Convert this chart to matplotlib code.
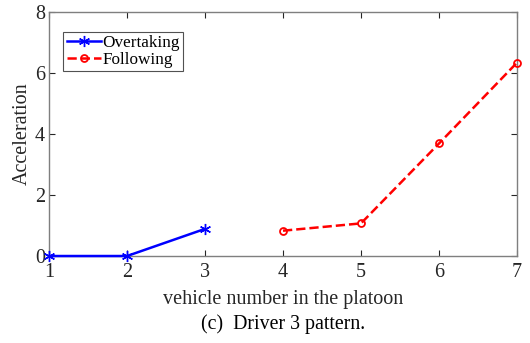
import matplotlib.pyplot as plt

plt.rcParams['font.family'] = ['Liberation Serif', 'DejaVu Serif']

# vehicle positions and accelerations
overtake_x = [1, 2, 3]
overtake_y = [0, 0, 0.89]
follow_x = [4, 5, 6, 7]
follow_y = [0.83, 1.07, 3.69, 6.34]

fig = plt.figure(figsize=(5.3, 3.43), dpi=100)
ax = fig.add_axes([0.0925, 0.2536, 0.883, 0.7114])

ax.plot(overtake_x, overtake_y, '-', color='blue', marker=(6, 2, 0), markersize=8,
        linewidth=1.8, label='Overtaking', clip_on=False, zorder=3)
ax.plot(follow_x, follow_y, '--', color='red', marker='o', markersize=5,
        markerfacecolor='none', markeredgewidth=1.3, linewidth=1.8,
        label='Following', clip_on=False, zorder=3)

ax.set_xlim(1, 7)
ax.set_ylim(0, 8)
ax.set_xticks(range(1, 8))
ax.set_yticks([0, 2, 4, 6, 8])
ax.tick_params(direction='in', top=True, right=True, labelsize=14.5, colors='#262626',
               length=4)
ax.tick_params(axis='x', pad=5)
ax.tick_params(axis='y', pad=3)
for s in ax.spines.values():
    s.set_color('#7f7f7f')
    s.set_linewidth(1.0)

ax.set_xlabel('vehicle number in the platoon', fontsize=14.5, color='#262626', labelpad=6)
ax.set_ylabel('Acceleration', fontsize=14.5, color='#262626', labelpad=2)

leg = ax.legend(loc='upper left', fontsize=12.3, frameon=True, fancybox=False,
                handlelength=2.0, handletextpad=0.1, borderpad=0.2,
                labelspacing=0.05, bbox_to_anchor=(0.012, 0.955))
leg.get_frame().set_edgecolor('#262626')
leg.get_frame().set_linewidth(0.8)

fig.text(0.534, 0.055, '(c)  Driver 3 pattern.', fontsize=14.3, ha='center', va='center')

fig.savefig('out.png', dpi=100)
